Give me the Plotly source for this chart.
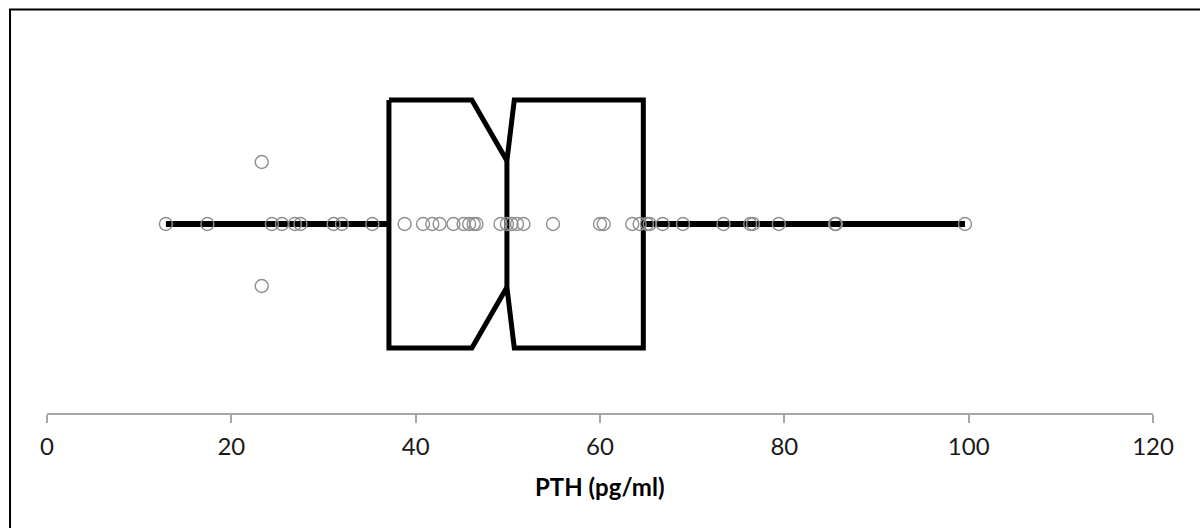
import plotly.graph_objects as go

# ---- data ----
pth_values = [12.9, 17.4, 24.4, 25.5, 26.9, 27.5, 31.1, 32.0, 35.3,
              38.8, 40.8, 41.8, 42.6, 44.1, 45.2, 45.8, 46.3, 46.6,
              49.2, 49.9, 50.4, 51.0, 51.7, 54.9, 60.0, 60.4, 63.5,
              64.3, 65.1, 65.4, 66.8, 69.0, 73.4, 76.3, 76.6, 79.4,
              85.5, 85.6, 99.6]
dup_values = [23.3, 23.3]          # duplicated value drawn above/below the row
dup_offsets = [0.5, -0.5]

whisker_low = 12.9
q1 = 37.1
median = 49.9
q3 = 64.7
whisker_high = 99.6
notch_low = 46.1
notch_high = 50.7

x_ticks = [0, 20, 40, 60, 80, 100, 120]
x_title = "PTH (pg/ml)"

# ---- geometry constants (style) ----
BOX_H = 1.0
NOTCH_H = 0.51

fig = go.Figure()

# whiskers
for a, b in [(whisker_low, q1), (q3, whisker_high)]:
    fig.add_trace(go.Scatter(x=[a, b], y=[0, 0], mode="lines",
                             line=dict(color="black", width=6),
                             hoverinfo="skip", showlegend=False))

# notched box outline
bx = [q1, notch_low, median, notch_high, q3, q3, notch_high, median, notch_low, q1, q1]
by = [BOX_H, BOX_H, NOTCH_H, BOX_H, BOX_H, -BOX_H, -BOX_H, -NOTCH_H, -BOX_H, -BOX_H, BOX_H]
fig.add_trace(go.Scatter(x=bx, y=by, mode="lines",
                         line=dict(color="black", width=5),
                         hoverinfo="skip", showlegend=False))
# median line
fig.add_trace(go.Scatter(x=[median, median], y=[NOTCH_H, -NOTCH_H], mode="lines",
                         line=dict(color="black", width=5),
                         hoverinfo="skip", showlegend=False))

# points
fig.add_trace(go.Scatter(x=pth_values, y=[0] * len(pth_values), mode="markers",
                         marker=dict(symbol="circle-open", size=13, color="#8f8f8f",
                                     line=dict(width=1.4, color="#8f8f8f")),
                         showlegend=False))
fig.add_trace(go.Scatter(x=dup_values, y=dup_offsets, mode="markers",
                         marker=dict(symbol="circle-open", size=13, color="#8f8f8f",
                                     line=dict(width=1.4, color="#8f8f8f")),
                         showlegend=False))

# layout: plot area x 46.5..1153.5, y 20..413
PL, PR, PT, PB = 46.5, 46.5, 20, 115
pw = 1200 - PL - PR
ph = 528 - PT - PB
y_bottom = (224 - 413) / 124.0
y_top = y_bottom + ph / 124.0

fig.update_layout(
    width=1200, height=528,
    margin=dict(l=PL, r=PR, t=PT, b=PB, pad=0),
    paper_bgcolor="white", plot_bgcolor="white",
    font=dict(family="Lato, 'Open Sans', sans-serif", color="black"),
    xaxis=dict(range=[0, 120], tickvals=x_ticks, ticktext=[str(v) for v in x_ticks],
               showgrid=False, zeroline=False, showline=True, linecolor="#a6a6a6",
               linewidth=1.5, ticks="outside", ticklen=8, tickcolor="#a6a6a6",
               tickwidth=1.5, tickfont=dict(size=24, color="#1a1a1a"),
               ticklabelstandoff=3, fixedrange=True),
    yaxis=dict(range=[y_bottom, y_top], visible=False, fixedrange=True),
)

# axis title
fig.add_annotation(text="<b>" + x_title + "</b>", x=60, xref="x",
                   y=(413 - 486) / ph, yref="paper", yanchor="middle",
                   showarrow=False, font=dict(size=24, color="black"))

# chart border (only top/left visible; extends beyond the canvas)
x0 = (9.5 - PL) / pw
y1 = 1 + (PT - 9.5) / ph
fig.add_shape(type="rect", xref="paper", yref="paper",
              x0=x0, x1=1 + (PR + 20) / pw, y0=-(PB + 20) / ph, y1=y1,
              line=dict(color="black", width=2), fillcolor="rgba(0,0,0,0)", layer="below")

fig.write_html("out.html")
